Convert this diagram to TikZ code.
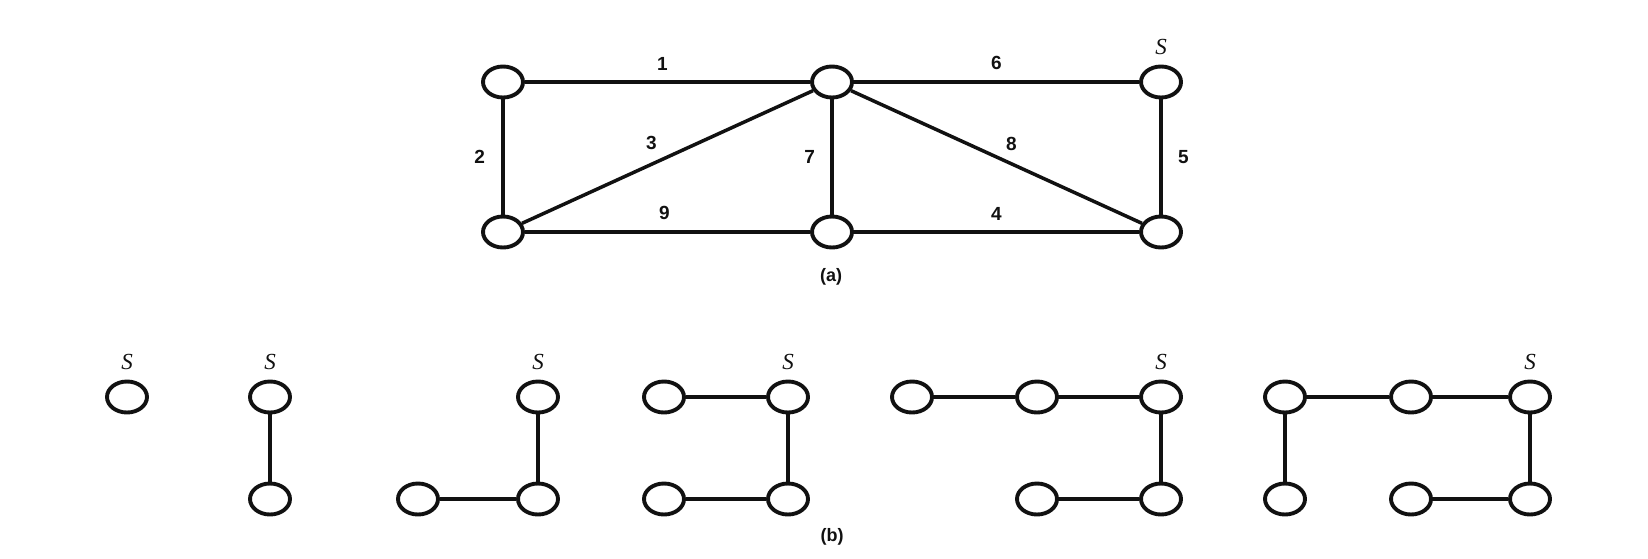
\documentclass[tikz,border=0pt]{standalone}
\usepackage{fontspec}
\setsansfont{Liberation Sans}
\newfontfamily\serifit{Liberation Serif}
\usepackage{tikz}
\usetikzlibrary{positioning,shapes.geometric}
\definecolor{ink}{HTML}{111111}
\tikzset{
  vx/.style     = {ellipse, draw=ink, line width=3.9pt, minimum width=40pt, minimum height=31pt, inner sep=0pt},
  eg/.style     = {draw=ink, line width=3.5pt},
  lab/.style    = {font=\fontsize{19}{22}\selectfont\sffamily\bfseries\color{ink}, inner sep=0pt, outer sep=0pt},
  figlab/.style = {font=\fontsize{18}{21}\selectfont\sffamily\bfseries\color{ink}, inner sep=0pt, outer sep=0pt},
  slab/.style   = {font=\fontsize{23}{26}\selectfont\serifit\itshape\color{ink}, inner sep=0pt, outer sep=0pt},
}

\begin{document}
\begin{tikzpicture}[x=1pt,y=-1pt]
\path[use as bounding box, fill=white] (0,0) rectangle (1648,558);

% ---- (a) the graph ------------------------------------------------------
\node[vx] (tl) at (503,82)  {};
\node[vx] (tm) at (832,82)  {};
\node[vx] (tr) at (1161,82) {};
\node[vx] (bl) at (503,232) {};
\node[vx] (bm) at (832,232) {};
\node[vx] (br) at (1161,232) {};
\node[slab, above=10pt of tr] (sa) {S};

\draw[eg] (tl) -- node[lab, above=12pt, xshift=-5pt] {1} (tm);
\draw[eg] (tm) -- node[lab, above=12pt] {6} (tr);
\draw[eg] (tl) -- node[lab, left=18pt] {2} (bl);
\draw[eg] (bl) -- node[lab, xshift=-16pt, yshift=14pt] {3} (tm);
\draw[eg] (tm) -- node[lab, left=17pt] {7} (bm);
\draw[eg] (tm) -- node[lab, xshift=15pt, yshift=13pt] {8} (br);
\draw[eg] (tr) -- node[lab, right=17pt] {5} (br);
\draw[eg] (bl) -- node[lab, above=12pt, xshift=-3pt] {9} (bm);
\draw[eg] (bm) -- node[lab, above=12pt] {4} (br);

\node[figlab] (capa) at (831,277) {(a)};

% ---- (b) the trees, grown one edge at a time -----------------------------
\foreach \n/\x/\y in {b1/127/397,
                      b2t/270/397, b2b/270/499,
                      b3t/538/397, b3b/538/499, b3l/418/499,
                      b4tl/664/397, b4tr/788/397, b4br/788/499, b4bl/664/499,
                      b5a/912/397, b5b/1037/397, b5c/1161/397, b5d/1161/499, b5e/1037/499,
                      b6a/1285/397, b6b/1411/397, b6c/1530/397, b6d/1530/499, b6e/1411/499, b6f/1285/499}
  \node[vx] (\n) at (\x,\y) {};

\foreach \n in {b1,b2t,b3t,b4tr,b5c,b6c}
  \node[slab, above=10pt of \n] (s\n) {S};

\foreach \a/\b in {b2t/b2b,
                   b3t/b3b, b3l/b3b,
                   b4tl/b4tr, b4tr/b4br, b4bl/b4br,
                   b5a/b5b, b5b/b5c, b5c/b5d, b5e/b5d,
                   b6a/b6b, b6b/b6c, b6a/b6f, b6c/b6d, b6e/b6d}
  \draw[eg] (\a) -- (\b);

\node[figlab] (capb) at (832,537) {(b)};

\end{tikzpicture}
\end{document}
